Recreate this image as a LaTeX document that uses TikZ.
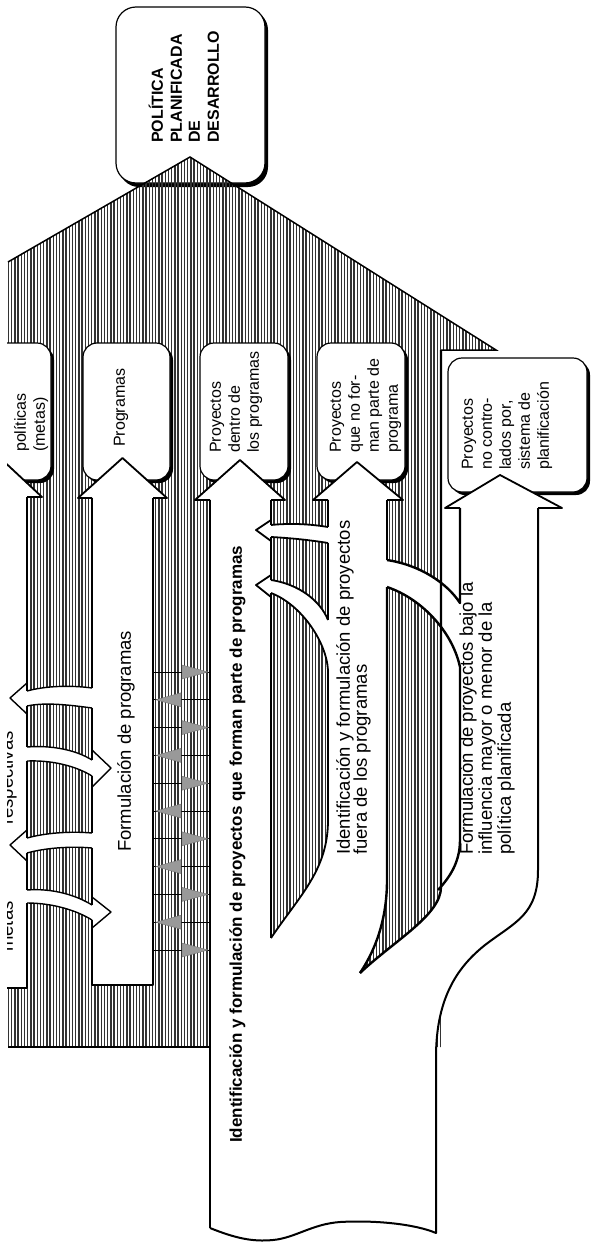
\documentclass[tikz,border=0pt]{standalone}
\usepackage{fontspec}
\setmainfont{Liberation Sans}
\tikzset{
  hline/.style={line width=1.3pt, draw=black!80},
  edge/.style={line width=1.8pt, line join=round},
  heavy/.style={line width=2.4pt, line join=round},
  bandedge/.style={line width=1.4pt, line join=round},
  boxface/.style={fill=white, draw=black, line width=1.2pt, rounded corners=14pt},
  boxshadow/.style={fill=black, rounded corners=14pt},
  lbl/.style={rotate=90, anchor=west, inner sep=0pt, text height=0.75em, text depth=0.2em},
  titletxt/.style={lbl, font=\fontsize{16}{19}\selectfont\bfseries},
  boxtxt/.style={lbl, font=\fontsize{16}{19}\selectfont},
  flowtxt/.style={lbl, font=\fontsize{18.5}{22}\selectfont},
  boldtxt/.style={lbl, font=\fontsize{17}{20}\selectfont\bfseries},
  graytri/.style={fill=black!40, draw=black!55, line width=0.4pt},
}
\newcommand{\hatchclip}[1]{\begin{scope}\clip #1;\foreach \hx in {8.5,11.7,...,600}{\draw[hline] (\hx,100) -- (\hx,1250);}\end{scope}}
\begin{document}
\begin{tikzpicture}[x=1pt,y=-1pt]
\useasboundingbox (0,0) rectangle (594,1242);
\fill[white] (0,0) rectangle (594,1242);
\clip (7,0) rectangle (594,1242);

% ---------- title box
\fill[black,rounded corners=20pt] (119,10) rectangle (268,187);
\filldraw[fill=white,line width=1.2pt,rounded corners=20pt] (116,7) rectangle (265,183);
\node[titletxt] (t1) at (160,143) {POLÍTICA};
\node[titletxt] (t2) at (179,143) {PLANIFICADA};
\node[titletxt] (t3) at (197,143) {DE};
\node[titletxt] (t4) at (216,143) {DESARROLLO};

% ---------- big hatched house
\hatchclip{(8,262) -- (190,157) -- (496,350) -- (441,350) -- (441,1047) -- (8,1047) -- cycle}
\draw[line width=1.5pt, line join=miter] (8,262) -- (190,157) -- (496,350) -- (441,350);

% ---------- boxes
\fill[boxshadow] (-57,346) rectangle (54,483);
\filldraw[boxface] (-60,343) rectangle (51,480);
\fill[boxshadow] (86,346) rectangle (173,483);
\filldraw[boxface] (83,343) rectangle (170,480);
\fill[boxshadow] (203,346) rectangle (291,483);
\filldraw[boxface] (200,343) rectangle (288,480);
\fill[boxshadow] (320,346) rectangle (408,483);
\filldraw[boxface] (317,343) rectangle (405,480);
\fill[boxshadow] (451,361) rectangle (590,495);
\filldraw[boxface] (448,358) rectangle (587,492);

\node[boxtxt] (b1a) at (23,452) {políticas};
\node[boxtxt] (b1b) at (42,452) {(metas)};
\node[boxtxt] (b2) at (122,447) {Programas};
\node[boxtxt] (b3a) at (218,453) {Proyectos};
\node[boxtxt] (b3b) at (237,453) {dentro de};
\node[boxtxt] (b3c) at (256,453) {los programas};
\node[boxtxt] (b4a) at (338,453) {Proyectos};
\node[boxtxt] (b4b) at (357,453) {que no for-};
\node[boxtxt] (b4c) at (376,453) {man parte de};
\node[boxtxt] (b4d) at (395,453) {programa};
\node[boxtxt] (b5a) at (470,470) {Proyectos};
\node[boxtxt] (b5b) at (489,470) {no contro-};
\node[boxtxt] (b5c) at (508,470) {lados por,};
\node[boxtxt] (b5d) at (527,470) {sistema de};
\node[boxtxt] (b5e) at (546,470) {planificación};

% ---------- white shafts and trunk
\fill[white] (0,497) rectangle (27,988);
\fill[white] (92,498) rectangle (153,985);
\fill[white] (210,500) -- (210,1228) .. controls (235,1238) and (252,1242) .. (273,1240)
  .. controls (295,1238) and (312,1224) .. (340,1222) .. controls (375,1220) and (415,1224) .. (436,1233)
  -- (436,1057) .. controls (436,995) and (460,965) .. (485,945) .. controls (515,922) and (538,915) .. (538,870)
  -- (538,508) -- (460,508) -- (460,840) .. controls (460,862) and (450,877) .. (438,890) -- (441,500) -- cycle;

% hatched strips inside the trunk
\hatchclip{(271,500) -- (271,938) .. controls (300,895) and (328,870) .. (328,820) -- (328,500) -- cycle}
\hatchclip{(387,500) -- (387,880) .. controls (387,925) and (372,955) .. (360,973) .. controls (395,940) and (441,915) .. (441,887) -- (441,500) -- cycle}

% ---------- band fills
\fill[white] (26,691) .. controls (45,686) and (70,685) .. (93,688) -- (93,708) .. controls (70,705) and (45,702) .. (26,706) -- cycle;
\fill[white] (26,747) .. controls (52,745) and (76,750) .. (93,760) -- (93,776) .. controls (76,766) and (52,760) .. (26,761) -- cycle;
\fill[white] (26,838) .. controls (45,833) and (70,831) .. (93,833) -- (93,848) .. controls (70,846) and (45,848) .. (26,853) -- cycle;
\fill[white] (26,890) .. controls (52,888) and (76,895) .. (93,905) -- (93,920) .. controls (76,910) and (52,903) .. (26,903) -- cycle;
\fill[white] (27,683) -- (10,698) -- (27,714) -- cycle;
\fill[white] (92,750) -- (111,768) -- (92,787) -- cycle;
\fill[white] (27,830) -- (10,845) -- (27,861) -- cycle;
\fill[white] (92,897) -- (111,912) -- (92,928) -- cycle;
\fill[white] (270,525) .. controls (290,523) and (310,524) .. (329,527) -- (329,543) .. controls (310,540) and (290,538) .. (270,537) -- cycle;
\fill[white] (270,580) .. controls (298,584) and (320,600) .. (329,620) -- (329,670) .. controls (326,640) and (300,604) .. (270,593) -- cycle;
\fill[white] (271,520) -- (256,530) -- (271,541) -- cycle;
\fill[white] (271,575) -- (256,585) -- (271,597) -- cycle;
\fill[white] (386,560) .. controls (420,565) and (447,583) .. (461,603) -- (461,667) .. controls (452,630) and (420,598) .. (386,587) -- cycle;

% ---------- big arrow heads
\fill[white] (27,497) -- (42,497) -- (-3,455) -- (-48,497) -- cycle;
\fill[white] (92,498) -- (78,498) -- (122.5,458) -- (167,498) -- (153,498) -- cycle;
\fill[white] (210,500) -- (195,500) -- (240,460) -- (285,500) -- (271,500) -- cycle;
\fill[white] (328,500) -- (313,500) -- (357,462) -- (403,500) -- (387,500) -- cycle;
\fill[white] (460,508) -- (445,508) -- (500,475) -- (562,508) -- (538,508) -- cycle;
\draw[edge] (27,497) -- (42,497) -- (-3,455);
\draw[edge] (92,498) -- (78,498) -- (122.5,458) -- (167,498) -- (153,498);
\draw[edge] (210,500) -- (195,500) -- (240,460) -- (285,500) -- (271,500);
\draw[edge] (328,500) -- (313,500) -- (357,462) -- (403,500) -- (387,500);
\draw[edge] (460,508) -- (445,508) -- (500,475) -- (562,508) -- (538,508);

% ---------- outlines
\draw[edge] (27,497) -- (27,691);
\draw[edge] (27,706) -- (27,747);
\draw[edge] (27,761) -- (27,838);
\draw[edge] (27,853) -- (27,890);
\draw[edge] (27,903) -- (27,988) -- (0,988);
\draw[edge] (92,498) -- (92,688);
\draw[edge] (92,708) -- (92,760);
\draw[edge] (92,776) -- (92,833);
\draw[edge] (92,848) -- (92,905);
\draw[edge] (92,920) -- (92,985) -- (153,985) -- (153,498);
\draw[bandedge] (27,691) .. controls (45,686) and (70,685) .. (92,688);
\draw[bandedge] (27,706) .. controls (45,702) and (70,705) .. (92,708);
\draw[bandedge] (27,747) .. controls (52,745) and (76,750) .. (92,760);
\draw[bandedge] (27,761) .. controls (52,760) and (76,766) .. (92,776);
\draw[bandedge] (27,838) .. controls (45,833) and (70,831) .. (92,833);
\draw[bandedge] (27,853) .. controls (45,848) and (70,846) .. (92,848);
\draw[bandedge] (27,890) .. controls (52,888) and (76,895) .. (92,905);
\draw[bandedge] (27,903) .. controls (52,903) and (76,910) .. (92,920);
\draw[bandedge] (27,683) -- (10,698) -- (27,714);
\draw[bandedge] (92,750) -- (111,768) -- (92,787);
\draw[bandedge] (27,830) -- (10,845) -- (27,861);
\draw[bandedge] (92,897) -- (111,912) -- (92,928);
\draw[line width=2.5pt] (8,1047) -- (210,1047);
\draw[line width=1.2pt] (210,500) -- (210,1228);
\draw[line width=2pt, line join=round] (210,1228) .. controls (235,1238) and (252,1242) .. (273,1240)
  .. controls (295,1238) and (312,1224) .. (340,1222) .. controls (375,1220) and (415,1224) .. (436,1233)
  -- (436,1057) .. controls (436,995) and (460,965) .. (485,945) .. controls (515,922) and (538,915) .. (538,870)
  -- (538,508);
\draw[heavy] (271,500) -- (271,525);
\draw[heavy] (271,537) -- (271,580);
\draw[heavy] (271,593) -- (271,938);
\draw[edge] (328,500) -- (328,527);
\draw[edge] (328,543) -- (328,620);
\draw[edge] (271,593) .. controls (300,604) and (326,640) .. (328,670) -- (328,820) .. controls (328,870) and (300,895) .. (271,938);
\draw[edge] (271,580) .. controls (298,584) and (320,600) .. (328,620);
\draw[edge] (271,525) .. controls (290,523) and (310,524) .. (328,527);
\draw[edge] (271,537) .. controls (290,538) and (310,540) .. (328,543);
\draw[edge] (271,520) -- (256,530) -- (271,541);
\draw[edge] (271,575) -- (256,585) -- (271,597);
\draw[heavy] (441,350) -- (441,887) .. controls (441,915) and (395,940) .. (360,973);
\draw[heavy] (387,500) -- (387,560);
\draw[heavy] (387,587) -- (387,880) .. controls (387,925) and (372,955) .. (360,973);
\draw[heavy] (387,560) .. controls (420,565) and (447,583) .. (460,603) -- (460,508);
\draw[heavy] (387,587) .. controls (420,598) and (452,630) .. (460,667) -- (460,840) .. controls (460,862) and (450,877) .. (438,890);

% ---------- grey exchange arrows
\foreach \k in {0,...,10} {
  \pgfmathsetmacro{\gy}{672+27.8*\k}
  \draw[line width=0.8pt] (153,\gy) -- (210,\gy);
  \ifodd\k
    \filldraw[graytri] (181,\gy-7) -- (156,\gy) -- (181,\gy+7) -- cycle;
  \else
    \filldraw[graytri] (182,\gy-7) -- (208,\gy) -- (182,\gy+7) -- cycle;
  \fi
}

% ---------- flow labels
\node[flowtxt] (lr) at (10,825) {respectivas};
\node[flowtxt] (lm) at (10,952) {metas};
\node[flowtxt] (fp) at (128,852) {Formulación de programas};
\node[boldtxt] (idp) at (239,1143) {Identificación y formulación de proyectos que forman parte de programas};
\node[flowtxt] (if1) at (347,855) {Identificación y formulación de proyectos};
\node[flowtxt] (if2) at (364,855) {fuera de los programas};
\node[flowtxt] (fb1) at (470,855) {Formulación de proyectos bajo la};
\node[flowtxt] (fb2) at (489,855) {influencia mayor o menor de la};
\node[flowtxt] (fb3) at (508,855) {política planificada};
\end{tikzpicture}
\end{document}
